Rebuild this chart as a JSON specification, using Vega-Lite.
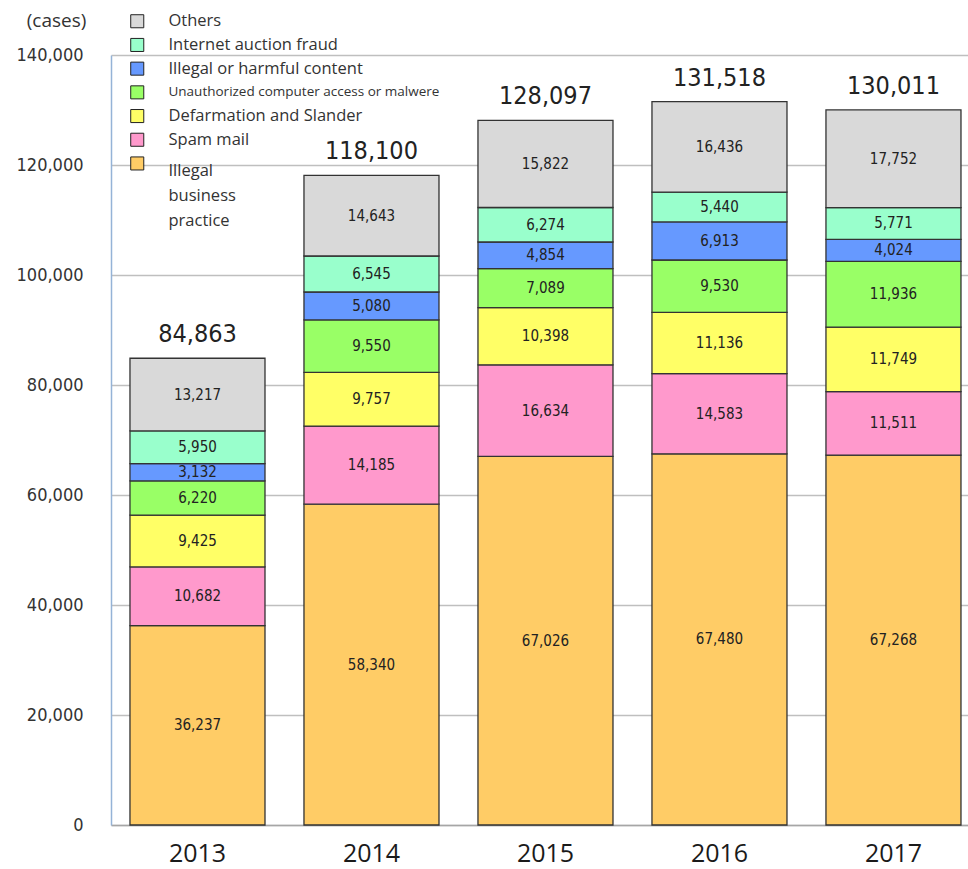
{
  "$schema": "https://vega.github.io/schema/vega-lite/v6.json",
  "width": 857,
  "height": 770,
  "autosize": {"type": "none"},
  "padding": {"left": 111, "top": 55, "right": 0, "bottom": 44},
  "background": "white",
  "config": {"view": {"stroke": null}},
  "data": {
    "values": [
      {"year": "2013", "category": "Illegal business practice", "cases": 36237},
      {"year": "2013", "category": "Spam mail", "cases": 10682},
      {"year": "2013", "category": "Defarmation and Slander", "cases": 9425},
      {"year": "2013", "category": "Unauthorized computer access or malwere", "cases": 6220},
      {"year": "2013", "category": "Illegal or harmful content", "cases": 3132},
      {"year": "2013", "category": "Internet auction fraud", "cases": 5950},
      {"year": "2013", "category": "Others", "cases": 13217},
      {"year": "2014", "category": "Illegal business practice", "cases": 58340},
      {"year": "2014", "category": "Spam mail", "cases": 14185},
      {"year": "2014", "category": "Defarmation and Slander", "cases": 9757},
      {"year": "2014", "category": "Unauthorized computer access or malwere", "cases": 9550},
      {"year": "2014", "category": "Illegal or harmful content", "cases": 5080},
      {"year": "2014", "category": "Internet auction fraud", "cases": 6545},
      {"year": "2014", "category": "Others", "cases": 14643},
      {"year": "2015", "category": "Illegal business practice", "cases": 67026},
      {"year": "2015", "category": "Spam mail", "cases": 16634},
      {"year": "2015", "category": "Defarmation and Slander", "cases": 10398},
      {"year": "2015", "category": "Unauthorized computer access or malwere", "cases": 7089},
      {"year": "2015", "category": "Illegal or harmful content", "cases": 4854},
      {"year": "2015", "category": "Internet auction fraud", "cases": 6274},
      {"year": "2015", "category": "Others", "cases": 15822},
      {"year": "2016", "category": "Illegal business practice", "cases": 67480},
      {"year": "2016", "category": "Spam mail", "cases": 14583},
      {"year": "2016", "category": "Defarmation and Slander", "cases": 11136},
      {"year": "2016", "category": "Unauthorized computer access or malwere", "cases": 9530},
      {"year": "2016", "category": "Illegal or harmful content", "cases": 6913},
      {"year": "2016", "category": "Internet auction fraud", "cases": 5440},
      {"year": "2016", "category": "Others", "cases": 16436},
      {"year": "2017", "category": "Illegal business practice", "cases": 67268},
      {"year": "2017", "category": "Spam mail", "cases": 11511},
      {"year": "2017", "category": "Defarmation and Slander", "cases": 11749},
      {"year": "2017", "category": "Unauthorized computer access or malwere", "cases": 11936},
      {"year": "2017", "category": "Illegal or harmful content", "cases": 4024},
      {"year": "2017", "category": "Internet auction fraud", "cases": 5771},
      {"year": "2017", "category": "Others", "cases": 17752}
    ]
  },
  "transform": [
    {"calculate": "indexof(['Others', 'Internet auction fraud', 'Illegal or harmful content', 'Unauthorized computer access or malwere', 'Defarmation and Slander', 'Spam mail', 'Illegal business practice'], datum.category)", "as": "stackOrder"}
  ],
  "resolve": {"axis": {"y": "independent"}},
  "encoding": {
    "x": {
      "field": "year",
      "type": "nominal",
      "scale": {"paddingInner": 0.224, "paddingOuter": 0.0747, "align": 0.73},
      "axis": {
        "title": null,
        "labelAngle": 0,
        "labelFont": "Open Sans",
        "labelFontSize": 25,
        "labelColor": "#1a1a1a",
        "labelBaseline": "middle",
        "labelPadding": 28,
        "ticks": false,
        "grid": false,
        "domainColor": "#a6a6a6",
        "domainWidth": 1.5
      }
    }
  },
  "layer": [
    {
      "mark": {"type": "bar", "stroke": "#333333", "strokeWidth": 1.3},
      "encoding": {
        "y": {
          "field": "cases",
          "type": "quantitative",
          "stack": "zero",
          "scale": {"domain": [0, 140000], "nice": false},
          "axis": {
            "title": "(cases)",
            "titleAngle": 0,
            "titleX": -55,
            "titleY": -35,
            "titleAlign": "center",
            "titleBaseline": "middle",
            "titleFont": "Open Sans",
            "titleFontSize": 19,
            "titleFontWeight": "normal",
            "titleColor": "#333333",
            "values": [0, 20000, 40000, 60000, 80000, 100000, 120000, 140000],
            "labelExpr": "format(datum.value, ',')",
            "labelFont": "DejaVu Sans Condensed",
            "labelFontSize": 18,
            "labelColor": "#333333",
            "labelPadding": 28,
            "ticks": false,
            "grid": true,
            "gridColor": "#bfbfbf",
            "gridWidth": 1.3,
            "domainColor": "#95b3d7",
            "domainWidth": 1.5
          }
        },
        "order": {"field": "stackOrder", "type": "quantitative", "sort": "descending"},
        "color": {
          "field": "category",
          "type": "nominal",
          "sort": ["Others", "Internet auction fraud", "Illegal or harmful content", "Unauthorized computer access or malwere", "Defarmation and Slander", "Spam mail", "Illegal business practice"],
          "scale": {
            "domain": ["Others", "Internet auction fraud", "Illegal or harmful content", "Unauthorized computer access or malwere", "Defarmation and Slander", "Spam mail", "Illegal business practice"],
            "range": ["#d9d9d9", "#99ffcc", "#6699ff", "#99ff66", "#ffff66", "#ff99cc", "#ffcc66"]
          },
          "legend": {
            "title": null,
            "orient": "none",
            "legendX": 12,
            "legendY": -48,
            "padding": 6,
            "symbolType": "square",
            "symbolSize": 170,
            "symbolStrokeColor": "#222222",
            "symbolStrokeWidth": 1,
            "labelFont": "Open Sans",
            "labelFontSize": 16.5,
            "labelColor": "#333333",
            "labelOffset": 23,
            "labelLimit": 400,
            "rowPadding": 5.7,
            "labelExpr": "datum.label === 'Illegal business practice' ? ['Illegal', 'business', 'practice'] : datum.label",
            "encode": {
              "labels": {
                "update": {
                  "fontSize": {"signal": "datum.label === 'Unauthorized computer access or malwere' ? 13.5 : 16.5"},
                  "baseline": {"signal": "datum.label === 'Illegal business practice' ? 'top' : 'middle'"},
                  "lineHeight": {"value": 25}
                }
              }
            }
          }
        }
      }
    },
    {
      "mark": {"type": "text", "font": "DejaVu Sans Condensed", "fontSize": 15, "baseline": "middle", "color": "#222222"},
      "encoding": {
        "y": {"field": "cases", "type": "quantitative", "stack": "zero", "bandPosition": 0.5, "axis": null},
        "order": {"field": "stackOrder", "type": "quantitative", "sort": "descending"},
        "detail": {"field": "category", "type": "nominal"},
        "text": {"field": "cases", "type": "quantitative", "format": ","}
      }
    },
    {
      "mark": {"type": "text", "font": "DejaVu Sans Condensed", "fontSize": 25, "baseline": "bottom", "dy": -11, "color": "#222222"},
      "encoding": {
        "y": {"aggregate": "sum", "field": "cases", "type": "quantitative", "axis": null},
        "text": {"aggregate": "sum", "field": "cases", "type": "quantitative", "format": ","}
      }
    }
  ]
}
